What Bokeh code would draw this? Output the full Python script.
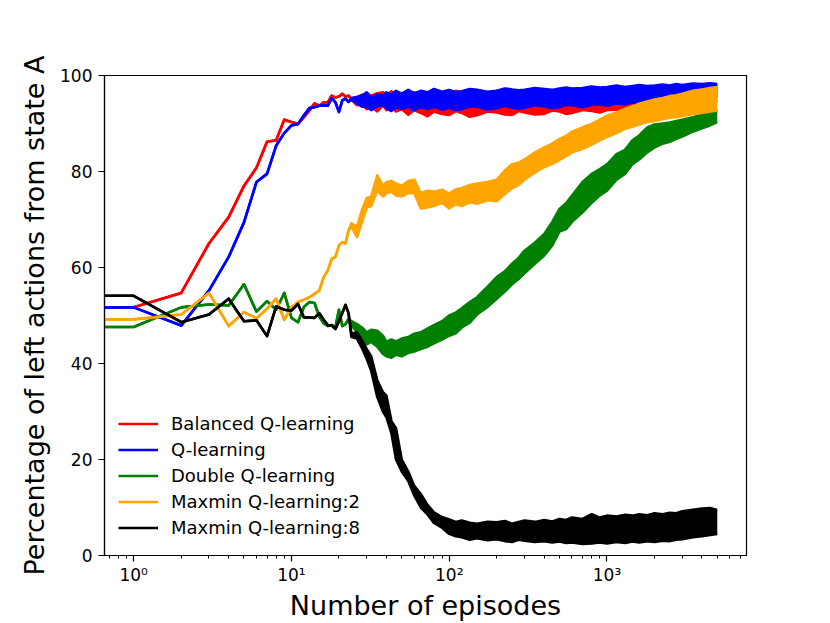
from bokeh.plotting import figure
from bokeh.models import Range1d, FixedTicker, Legend, LegendItem
from bokeh.embed import file_html
from bokeh.resources import INLINE

# ---------------- data ----------------
EARLY_EP = list(range(24))  # episodes 0..23, clean single-line part
BAND_EP = [24, 26, 28, 30, 32, 35, 38, 40, 43, 46, 50, 55, 60, 66, 73, 80, 90,
           100, 110, 120, 135, 150, 175, 200, 225, 250, 275, 300, 350, 400, 450,
           500, 550, 600, 700, 800, 900, 1000, 1150, 1300, 1450, 1600, 1800, 2000,
           2250, 2500, 2750, 3000, 3500, 4000, 4500, 5000]  # noisy part: envelope

RED_EARLY = [51.7, 51.7, 54.7, 65.0, 70.5, 77.0, 80.8, 86.2, 86.5, 90.8, 90.3, 89.9,
             91.3, 92.7, 94.2, 93.7, 94.4, 94.4, 95.8, 95.4, 95.6, 96.2, 95.6, 95.8]
RED_LO = [95.0, 93.8, 94.0, 93.0, 93.5, 92.5, 93.8, 92.8, 93.5, 92.5, 93.0, 91.8, 92.8,
          92.2, 91.5, 92.5, 92.0,
          91.8, 92.6, 92.2, 91.4, 91.7, 92.5, 92.3, 91.9, 91.8, 92.6, 92.3, 91.9, 92.0,
          92.7, 92.5, 92.0, 92.2, 92.8, 92.6, 92.3, 92.8, 92.9, 93.2, 92.8, 93.3, 93.2,
          93.5, 93.4, 93.8, 93.7, 94.0, 94.2, 94.3, 94.5, 94.6]
RED_HI = [95.2, 95.5, 96.0, 96.0, 95.8, 96.3, 96.5, 95.8, 96.7, 95.5, 96.3, 95.8, 96.5,
          95.8, 96.5, 95.8, 96.5,
          96.2, 96.8, 96.5, 96.0, 96.6, 96.3, 96.8, 96.5, 96.2, 96.7, 96.4, 96.8, 96.5,
          97.0, 96.6, 96.9, 96.6, 97.1, 96.8, 97.2, 97.0, 97.3, 97.1, 97.4, 97.2, 97.5,
          97.3, 97.6, 97.4, 97.7, 97.6, 97.8, 97.7, 97.9, 97.7]

BLUE_EARLY = [51.7, 51.7, 47.9, 55.2, 62.2, 69.4, 77.8, 79.5, 85.4, 88.0, 89.6, 89.9,
              91.7, 93.2, 93.4, 93.7, 93.8, 93.7, 95.3, 94.4, 92.4, 94.8, 95.2, 94.5]
BLUE_LO = [95.0, 94.2, 93.5, 93.5, 92.8, 93.6, 93.8, 93.2, 92.6, 93.4, 93.0, 93.5, 92.8,
           93.4, 93.0, 93.5, 92.9,
           93.3, 92.8, 93.0, 93.6, 93.5, 92.9, 93.2, 93.7, 93.3, 93.0, 93.3, 93.8, 93.6,
           93.2, 93.4, 93.9, 93.8, 93.4, 93.9, 94.0, 93.7, 94.2, 94.0, 94.4, 94.3, 94.6,
           94.5, 94.8, 94.7, 95.0, 95.1, 95.3, 95.2, 95.5, 95.6]
BLUE_HI = [95.3, 95.5, 95.8, 96.5, 95.5, 96.0, 95.8, 96.5, 96.0, 96.8, 96.2, 97.0, 96.3,
           96.8, 96.5, 97.2, 96.6,
           97.0, 96.5, 96.7, 97.2, 97.0, 96.6, 96.8, 97.3, 97.1, 96.9, 97.0, 97.4, 97.2,
           97.0, 97.3, 97.5, 97.3, 97.4, 97.7, 97.5, 97.6, 97.9, 97.6, 97.8, 98.0, 97.8,
           97.9, 98.1, 97.9, 98.2, 98.0, 98.3, 98.2, 98.4, 98.2]

GREEN_EARLY = [47.6, 47.6, 51.7, 52.3, 52.1, 56.5, 50.8, 53.0, 51.2, 54.7, 49.5, 48.6,
               51.8, 52.8, 52.6, 49.8, 48.4, 47.8, 48.0, 47.6, 51.2, 47.8, 48.2, 49.3]
GREEN_LO = [48.0, 46.5, 45.5, 44.0, 44.5, 43.5, 42.0, 41.5, 41.2, 41.8, 41.5, 42.2, 42.5,
            43.0, 43.5, 44.2, 45.0,
            45.8, 46.3, 47.5, 48.5, 50.2, 51.8, 53.5, 55.0, 56.5, 57.6, 58.8, 60.8, 62.5,
            64.6, 67.5, 68.0, 69.5, 71.5, 73.5, 75.0, 76.0, 78.3, 79.5, 81.5, 82.5, 84.0,
            85.0, 85.8, 86.2, 86.8, 87.3, 88.3, 89.0, 89.6, 90.3]
GREEN_HI = [48.8, 48.2, 47.5, 46.5, 47.0, 46.8, 45.8, 44.5, 45.0, 44.6, 45.2, 45.5, 46.2,
            46.5, 47.3, 48.0, 48.8,
            50.0, 50.6, 51.5, 52.8, 53.8, 56.0, 58.0, 59.2, 60.8, 62.0, 63.5, 65.2, 67.0,
            69.5, 72.2, 73.4, 75.0, 77.8, 79.5, 80.5, 81.5, 83.6, 84.5, 86.5, 87.5, 89.2,
            89.8, 90.0, 90.2, 90.5, 90.8, 91.3, 91.8, 92.2, 92.8]

ORANGE_EARLY = [49.2, 49.2, 50.2, 54.7, 47.8, 50.7, 49.4, 51.4, 53.5, 49.1, 51.7, 52.8,
                53.3, 53.8, 54.5, 55.2, 58.0, 59.4, 61.8, 62.2, 64.6, 65.3, 65.0, 67.7]
ORANGE_LO = [68.5, 66.3, 69.5, 72.5, 72.8, 76.0, 74.8, 75.5, 75.8, 75.0, 74.8, 75.5, 75.5,
             72.3, 72.5, 72.8, 73.5,
             72.3, 73.2, 72.8, 73.6, 73.3, 74.0, 73.8, 75.3, 76.5, 77.2, 78.3, 79.8, 80.9,
             81.6, 82.4, 83.2, 84.0, 84.7, 85.6, 86.5, 87.2, 88.0, 88.9, 89.3, 89.8, 90.3,
             90.5, 90.9, 91.2, 91.3, 91.5, 92.0, 92.2, 92.5, 92.7]
ORANGE_HI = [69.2, 68.5, 72.0, 74.5, 74.8, 79.2, 77.0, 77.8, 78.0, 77.5, 77.0, 78.0, 78.3,
             75.5, 76.0, 75.8, 76.2,
             75.4, 76.3, 76.5, 77.2, 77.5, 77.8, 78.3, 80.2, 81.5, 81.8, 82.5, 84.0, 85.0,
             85.8, 86.8, 87.4, 88.3, 89.2, 89.9, 90.8, 91.6, 92.3, 93.1, 93.6, 94.1, 94.6,
             95.0, 95.3, 95.7, 95.9, 96.2, 96.8, 97.1, 97.4, 97.6]

BLACK_EARLY = [54.1, 54.1, 48.6, 50.2, 53.5, 48.8, 49.0, 45.7, 51.9, 51.2, 51.0, 52.4,
               49.6, 49.6, 49.5, 50.5, 49.1, 48.0, 47.9, 47.2, 48.8, 50.5, 52.2, 50.5]
BLACK_LO = [45.5, 45.2, 43.2, 41.0, 38.5, 33.0, 30.0, 28.8, 25.5, 20.0, 17.5, 15.5, 12.5,
            10.0, 8.5, 6.8, 5.8,
            4.5, 4.0, 3.8, 3.3, 3.6, 3.2, 3.4, 3.0, 2.8, 3.3, 3.1, 2.8, 3.0, 2.7, 2.9,
            2.6, 2.7, 2.4, 2.5, 2.7, 2.5, 2.8, 2.6, 2.9, 2.7, 3.0, 2.8, 3.1, 3.0, 3.3,
            3.4, 3.8, 4.0, 4.3, 4.5]
BLACK_HI = [46.2, 46.5, 44.8, 43.0, 41.5, 36.5, 34.0, 33.3, 28.0, 26.5, 20.0, 17.5, 14.5,
            12.8, 10.5, 9.0, 8.0,
            7.5, 7.0, 7.3, 6.8, 6.6, 7.0, 6.9, 7.2, 6.6, 7.0, 7.3, 7.0, 7.4, 7.1, 7.6,
            7.4, 7.9, 7.6, 8.6, 7.9, 8.3, 8.1, 8.5, 8.3, 8.6, 8.4, 8.8, 8.6, 8.9, 8.8,
            9.2, 9.5, 9.8, 9.9, 9.5]

SERIES = [
    ("Balanced Q-learning", "red", RED_EARLY, RED_LO, RED_HI),
    ("Q-learning", "blue", BLUE_EARLY, BLUE_LO, BLUE_HI),
    ("Double Q-learning", "green", GREEN_EARLY, GREEN_LO, GREEN_HI),
    ("Maxmin Q-learning:2", "orange", ORANGE_EARLY, ORANGE_LO, ORANGE_HI),
    ("Maxmin Q-learning:8", "black", BLACK_EARLY, BLACK_LO, BLACK_HI),
]
for _n, _c, _e, _lo, _hi in SERIES:
    assert len(_e) == len(EARLY_EP), (_n, len(_e))
    assert len(_lo) == len(BAND_EP) and len(_hi) == len(BAND_EP), (_n, len(_lo), len(_hi))

X_TICKS = [1, 10, 100, 1000]
X_TICK_LABELS = ["10\u2070", "10\u00b9", "10\u00b2", "10\u00b3"]
Y_TICKS = [0, 20, 40, 60, 80, 100]

# ---------------- figure ----------------
X_START, X_END = 0.653, 7660
X_CLIP = 0.4  # episode 0 cannot be shown on a log axis; it is clipped at the left edge

FONT = "DejaVu Sans"

p = figure(width=830, height=623, x_axis_type="log",
           x_range=Range1d(X_START, X_END), y_range=Range1d(0, 100),
           output_backend="svg", toolbar_location=None,
           min_border_left=104, min_border_right=84, min_border_top=75,
           min_border_bottom=68)

p.xgrid.visible = False
p.ygrid.visible = False
p.outline_line_color = "black"
p.outline_line_width = 1.2
p.background_fill_color = "white"
p.border_fill_color = "white"

minor = [m * 10.0 ** k for k in range(-1, 4) for m in range(2, 10)]
p.xaxis.ticker = FixedTicker(ticks=X_TICKS, minor_ticks=minor)
p.xaxis.major_label_overrides = {t: l for t, l in zip(X_TICKS, X_TICK_LABELS)}
p.yaxis.ticker = FixedTicker(ticks=Y_TICKS, minor_ticks=[])

for ax in (p.xaxis[0], p.yaxis[0]):
    ax.axis_line_color = "black"
    ax.axis_line_width = 1.2
    ax.major_tick_in = 0
    ax.major_tick_out = 6
    ax.minor_tick_in = 0
    ax.minor_tick_out = 3
    ax.major_tick_line_width = 1.2
    ax.minor_tick_line_width = 1.0
    ax.major_label_text_font = FONT
    ax.major_label_text_font_size = "17px"
    ax.major_label_text_color = "black"
    ax.axis_label_text_font = FONT
    ax.axis_label_text_font_size = "27px"
    ax.axis_label_text_font_style = "normal"
    ax.axis_label_text_color = "black"

p.yaxis.minor_tick_out = 0
p.xaxis.axis_label = "Number of episodes"
p.yaxis.axis_label = "Percentage of left actions from state A"
p.xaxis.major_label_standoff = 3
p.xaxis.axis_label_standoff = 2
p.yaxis.major_label_standoff = 6
p.yaxis.axis_label_standoff = 7

items = []
for name, color, early, lo, hi in SERIES:
    ep = EARLY_EP + BAND_EP
    xs = [X_CLIP if e == 0 else e for e in ep]
    ylo = early + lo
    yhi = early + hi
    p.varea(x=xs, y1=ylo, y2=yhi, fill_color=color)
    r = p.line(xs, ylo, line_color=color, line_width=2.6, line_join="round")
    p.line(xs, yhi, line_color=color, line_width=2.6, line_join="round")
    items.append(LegendItem(label=name, renderers=[r]))

legend = Legend(items=items, location=(14, 17))
legend.border_line_alpha = 0
legend.background_fill_alpha = 0
legend.padding = 0
legend.margin = 0
legend.spacing = 5
legend.glyph_width = 40
legend.glyph_height = 21
legend.label_height = 21
legend.label_standoff = 13
legend.label_text_font = FONT
legend.label_text_font_size = "18px"
legend.label_text_color = "black"
p.add_layout(legend)

open("out.html", "w").write(file_html(p, INLINE))
